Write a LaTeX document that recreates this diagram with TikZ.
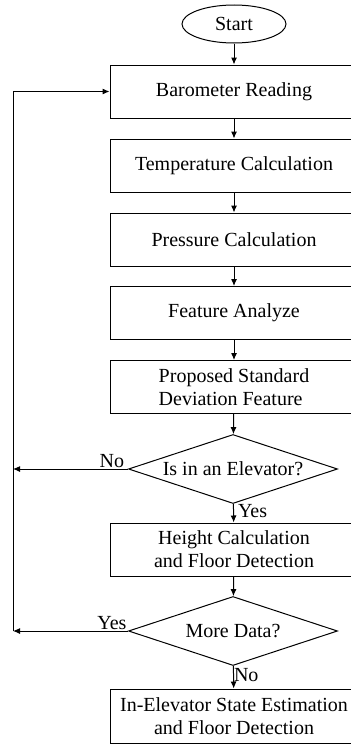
\documentclass[tikz,border=0pt]{standalone}
\usepackage{fontspec}
\setmainfont{Liberation Serif}
\usetikzlibrary{shapes.geometric,arrows.meta}

\begin{document}
\begin{tikzpicture}[
		x=0.5pt, y=-0.5pt,
		line width=0.5pt,
		every node/.style={font=\fontsize{10}{11.5}\selectfont},
		process/.style={rectangle, draw, minimum width=124pt, minimum height=26.5pt, inner sep=2pt, align=center},
		decision/.style={diamond, draw, aspect=3, inner sep=0pt, minimum width=104.5pt, minimum height=34.5pt},
		startstop/.style={ellipse, draw, minimum width=52pt, minimum height=19pt, inner sep=1pt},
		arrow/.style={-{Latex[length=3.5pt,width=3pt]}}
	]
	\clip (0,0) rectangle (351,744);
	% flow
	\node[startstop] (start) at (234,24) {Start};
	\node[process] (baro) at (234,91.5) {Barometer Reading};
	\node[process] (temp) at (234,165.5) {Temperature Calculation};
	\node[process] (press) at (234,239.5) {Pressure Calculation};
	\node[process] (feat) at (234,313) {Feature Analyze};
	\node[process, align=left] (stdev) at (234,387) {Proposed Standard\\Deviation Feature};
	\node[decision] (elev) at (233,469) {Is in an Elevator?};
	\node[process] (height) at (234,549.5) {Height Calculation\\and Floor Detection};
	\node[decision] (more) at (233,631) {More Data?};
	\node[process, minimum height=27pt] (state) at (234,716) {In-Elevator State Estimation\\and Floor Detection};
	\coordinate (loop) at (13,0);

	\draw[arrow] (start) -- (baro);
	\draw[arrow] (baro) -- (temp);
	\draw[arrow] (temp) -- (press);
	\draw[arrow] (press) -- (feat);
	\draw[arrow] (feat) -- (stdev);
	\draw[arrow] (stdev) -- (elev);
	\draw[arrow] (elev) -- node[right, pos=0.4, inner sep=2pt] {Yes} (height);
	\draw[arrow] (height) -- (more);
	\draw[arrow] (more) -- node[right, pos=0.4, inner sep=0pt] {No} (state);

	% back to reading
	\draw[arrow] (elev.west) -- node[above, pos=0.14, inner sep=0.5pt] {No} (elev.west -| loop);
	\draw[arrow] (more.west) -- node[above, pos=0.14, inner sep=0.5pt] {Yes} (more.west -| loop);
	\draw[arrow] (more.west -| loop) -- (baro.west -| loop) -- (baro.west);
\end{tikzpicture}
\end{document}
